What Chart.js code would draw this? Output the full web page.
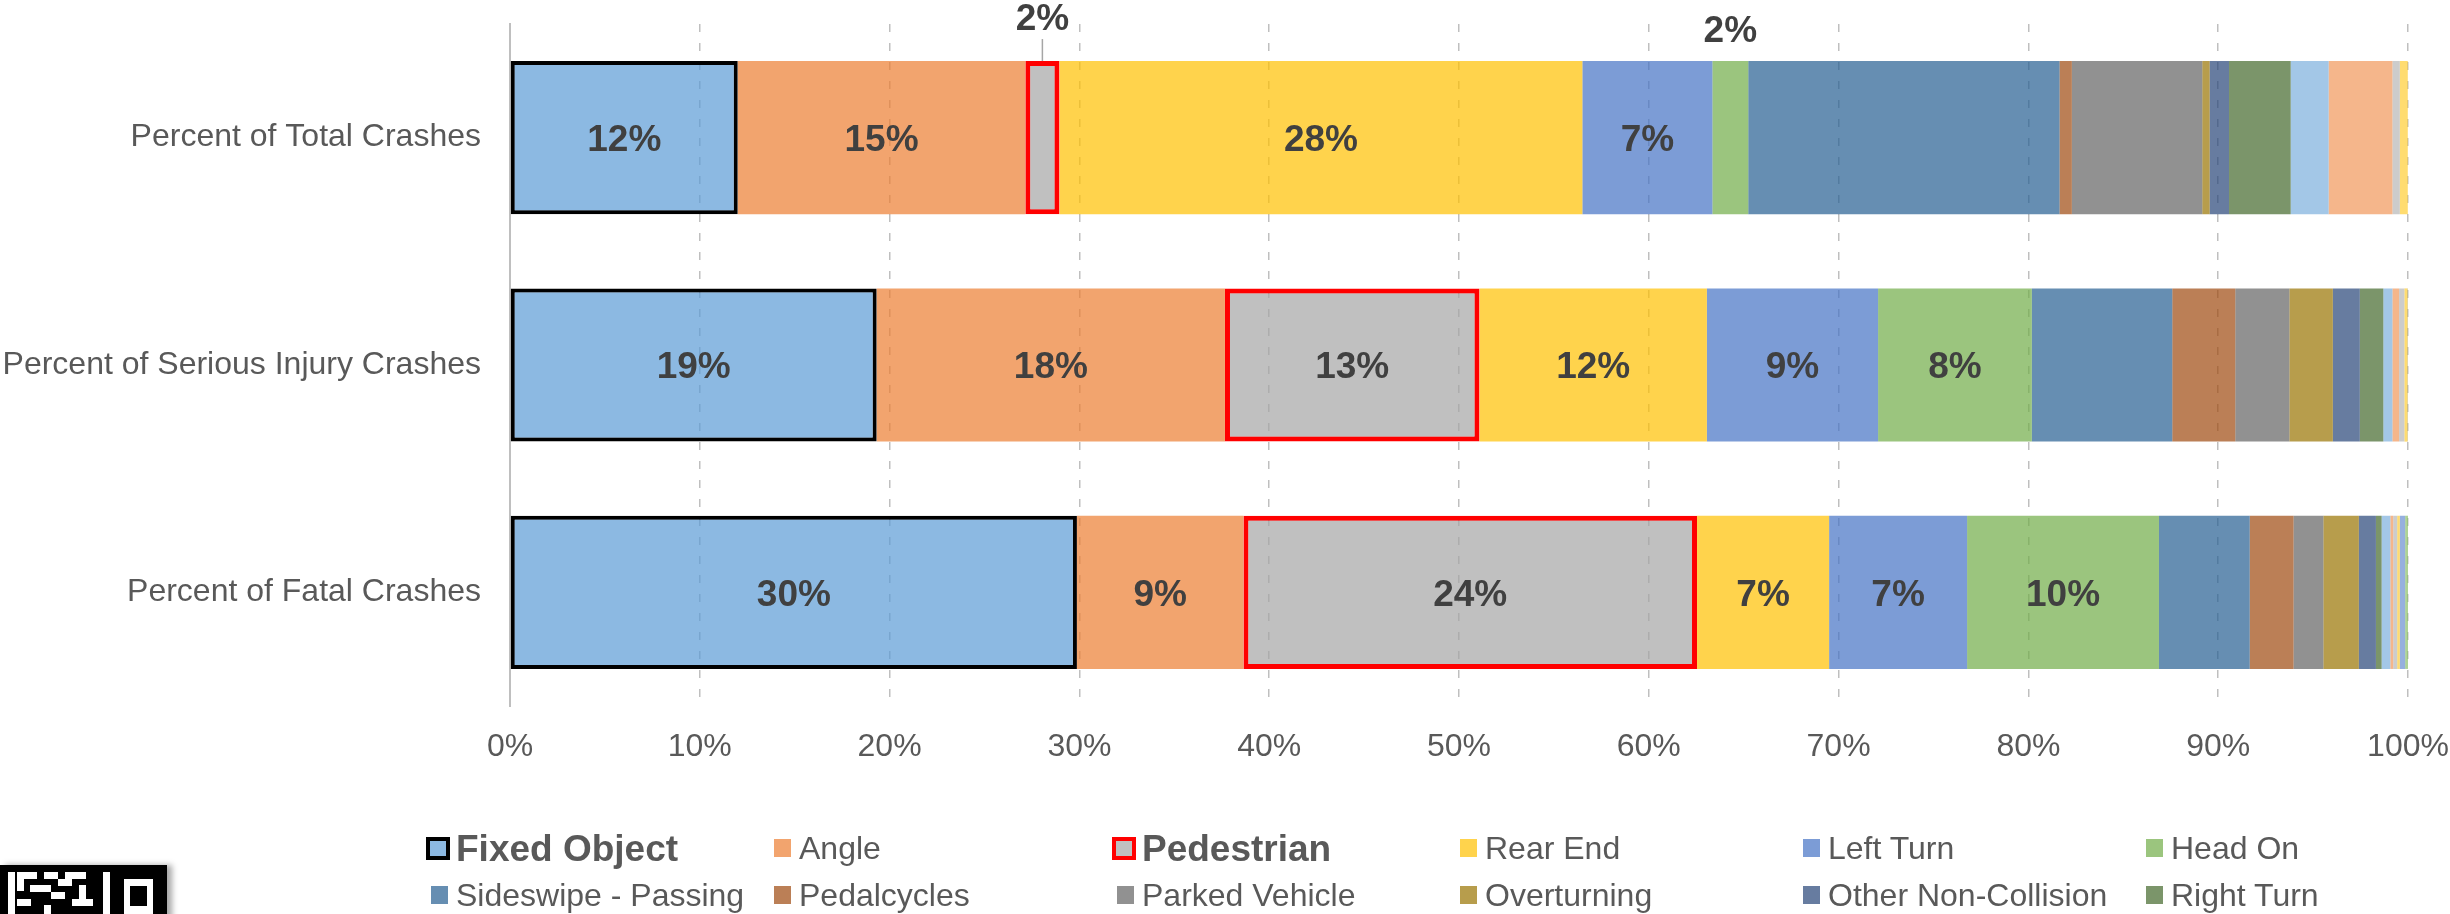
<!DOCTYPE html>
<html>
<head>
<meta charset="utf-8">
<script src="https://cdn.jsdelivr.net/npm/chart.js@4.4.1/dist/chart.umd.min.js"></script>
<style>
  html, body { margin: 0; padding: 0; background: #fff; overflow: hidden; }
  #wrap { position: relative; width: 2450px; height: 914px; overflow: hidden; font-family: 'Liberation Sans', Arial, sans-serif; }
  #chartBox { position: absolute; left: 0; top: 0; width: 2450px; height: 914px; }
  .legend-item { position: absolute; height: 40px; color: #595959; font-size: 32px; white-space: nowrap; }
  .legend-item.strong { font-weight: bold; font-size: 37px; }
  .legend-item .swatch { position: absolute; left: 0; top: 11px; width: 17px; height: 18px; box-sizing: border-box; }
  .legend-item.strong .swatch { left: -5px; top: 9px; width: 24px; height: 23px; border: 4px solid #000; }
  .legend-item .txt { position: absolute; left: 25px; top: 50%; transform: translateY(-50%); line-height: 1; }
  #code { position: absolute; left: 0; top: 865px; width: 167px; height: 60px; background: #000; box-shadow: 5px 0 6px rgba(0,0,0,0.35); }
  #code div { position: absolute; background: #fff; }
</style>
</head>
<body>
<div id="wrap">
  <div id="chartBox"><canvas id="crashChart"></canvas></div>
  <div id="legend"></div>
  <div id="code">
    <div style="left:8px;top:7px;width:7px;height:60px"></div>
    <div style="left:17px;top:7px;width:20px;height:7px"></div>
    <div style="left:17px;top:14px;width:7px;height:12px"></div>
    <div style="left:44px;top:7px;width:14px;height:7px"></div>
    <div style="left:30px;top:20px;width:21px;height:7px"></div>
    <div style="left:58px;top:14px;width:14px;height:7px"></div>
    <div style="left:65px;top:7px;width:21px;height:7px"></div>
    <div style="left:51px;top:27px;width:14px;height:7px"></div>
    <div style="left:79px;top:20px;width:7px;height:14px"></div>
    <div style="left:17px;top:34px;width:14px;height:7px"></div>
    <div style="left:44px;top:40px;width:7px;height:10px"></div>
    <div style="left:72px;top:34px;width:21px;height:7px"></div>
    <div style="left:103px;top:7px;width:7px;height:60px"></div>
    <div style="left:124px;top:14px;width:29px;height:46px"></div>
    <div style="left:130px;top:21px;width:17px;height:20px;background:#000"></div>
  </div>
</div>
<script>
// crash type shares (percent) by severity level
const categories = ['Percent of Total Crashes', 'Percent of Serious Injury Crashes', 'Percent of Fatal Crashes'];

const seriesNames = [
  'Fixed Object', 'Angle', 'Pedestrian', 'Rear End', 'Left Turn', 'Head On',
  'Sideswipe - Passing', 'Pedalcycles', 'Parked Vehicle', 'Overturning', 'Other Non-Collision', 'Right Turn',
  'Backing', 'Sideswipe - Opposite', 'Animal', 'Other Collision', 'Train', 'Unknown'
];

const fixedObject       = [12.00, 19.32, 29.87];
const angle             = [15.15, 18.35, 8.77];
const pedestrian        = [1.80, 13.41, 23.90];
const rearEnd           = [27.55, 11.98, 6.96];
const leftTurn          = [6.85, 9.02, 7.27];
const headOn            = [1.89, 8.10, 10.11];
const sideswipePassing  = [16.40, 7.40, 4.78];
const pedalcycles       = [0.65, 3.32, 2.31];
const parkedVehicle     = [6.87, 2.85, 1.57];
const overturning       = [0.39, 2.29, 1.87];
const otherNonCollision = [1.02, 1.42, 0.90];
const rightTurn         = [3.25, 1.24, 0.30];
const backing           = [2.00, 0.48, 0.46];
const sideswipeOpposite = [3.36, 0.35, 0.15];
const animal            = [0.39, 0.28, 0.21];
const otherCollision    = [0.42, 0.17, 0.14];
const train             = [0.00, 0.02, 0.28];
const unknown           = [0.00, 0.00, 0.15];

const seriesValues = [
  fixedObject, angle, pedestrian, rearEnd, leftTurn, headOn,
  sideswipePassing, pedalcycles, parkedVehicle, overturning, otherNonCollision, rightTurn,
  backing, sideswipeOpposite, animal, otherCollision, train, unknown
];

// office theme colours, drawn at 70% opacity so the gridlines show through
const themeColors = [
  '91,155,213', '237,125,49', '165,165,165', '255,192,0', '68,114,196', '112,173,71',
  '37,94,145', '158,72,14', '99,99,99', '153,115,0', '38,68,120', '67,104,43',
  '124,175,221', '241,151,90', '183,183,183', '255,205,51', '105,142,208', '140,193,104'
];
const fill = c => `rgba(${c},0.7)`;

// series that get value labels, and those outlined
const labelledSeries = [0, 1, 2, 3, 4, 5];
const outlined = { 0: '#000000', 2: '#FF0000' };
// small segments get their label lifted above the bar
const calloutLift = { 2: 41, 5: 29 };
const calloutLeader = [2];

const segmentLabels = {
  id: 'segmentLabels',
  afterDatasetsDraw(chart) {
    const ctx = chart.ctx;
    ctx.save();
    ctx.font = 'bold 37px "Liberation Sans", Arial, sans-serif';
    ctx.fillStyle = '#404040';
    ctx.textAlign = 'center';
    ctx.textBaseline = 'middle';
    labelledSeries.forEach(di => {
      const meta = chart.getDatasetMeta(di);
      meta.data.forEach((bar, j) => {
        const v = chart.data.datasets[di].data[j];
        const text = Math.round(v) + '%';
        const cx = (bar.x + bar.base) / 2;
        if (v >= 3) {
          ctx.fillText(text, cx, bar.y + 3);
          return;
        }
        const top = bar.y - bar.height / 2;
        ctx.fillText(text, cx, top - (calloutLift[di] || 30));
        if (calloutLeader.includes(di)) {
          ctx.strokeStyle = '#A6A6A6';
          ctx.lineWidth = 1.5;
          ctx.beginPath();
          ctx.moveTo(cx, top - 22);
          ctx.lineTo(cx, top);
          ctx.stroke();
        }
      });
    });
    ctx.restore();
  }
};

const datasets = seriesNames.map((name, i) => ({
  label: name,
  data: seriesValues[i],
  backgroundColor: fill(themeColors[i]),
  borderColor: outlined[i] || fill(themeColors[i]),
  borderWidth: outlined[i] ? (i === 2 ? 5 : 4) : 0,
  borderSkipped: false,
  categoryPercentage: 1,
  barPercentage: 0.674
}));

const chart = new Chart(document.getElementById('crashChart'), {
  type: 'bar',
  data: { labels: categories, datasets: datasets },
  options: {
    indexAxis: 'y',
    responsive: true,
    maintainAspectRatio: false,
    animation: false,
    layout: { padding: { top: 24, right: 42, bottom: 128, left: 0 } },
    plugins: {
      legend: { display: false },
      tooltip: { enabled: false }
    },
    scales: {
      x: {
        stacked: true,
        min: 0,
        max: 100,
        ticks: {
          stepSize: 10,
          callback: v => v + '%',
          color: '#595959',
          font: { family: '"Liberation Sans", Arial, sans-serif', size: 32 },
          padding: 22,
          maxRotation: 0
        },
        grid: { color: '#BFBFBF', lineWidth: 1.5, drawTicks: false },
        border: { display: false, dash: [8, 11] },
        afterFit: s => { s.height = 80; s.paddingLeft = 0; s.paddingRight = 0; }
      },
      y: {
        stacked: true,
        ticks: {
          color: '#595959',
          font: { family: '"Liberation Sans", Arial, sans-serif', size: 32 },
          padding: 29
        },
        grid: { display: false, drawTicks: false },
        border: { display: true, color: '#BFBFBF', width: 2 },
        afterFit: s => { s.width = 510; s.paddingTop = 0; s.paddingBottom = 0; }
      }
    }
  },
  plugins: [segmentLabels]
});

// legend: six columns, rows below the third fall outside the frame
const legendBox = document.getElementById('legend');
seriesNames.forEach((name, i) => {
  const col = i % 6, row = Math.floor(i / 6);
  const item = document.createElement('div');
  item.className = 'legend-item' + (outlined[i] ? ' strong' : '');
  item.style.left = (431 + 343 * col) + 'px';
  item.style.top = (828 + 47 * row) + 'px';
  const sw = document.createElement('span');
  sw.className = 'swatch';
  sw.style.background = fill(themeColors[i]);
  if (outlined[i]) sw.style.borderColor = outlined[i];
  const txt = document.createElement('span');
  txt.className = 'txt';
  txt.textContent = name;
  item.appendChild(sw);
  item.appendChild(txt);
  legendBox.appendChild(item);
});
</script>
</body>
</html>
